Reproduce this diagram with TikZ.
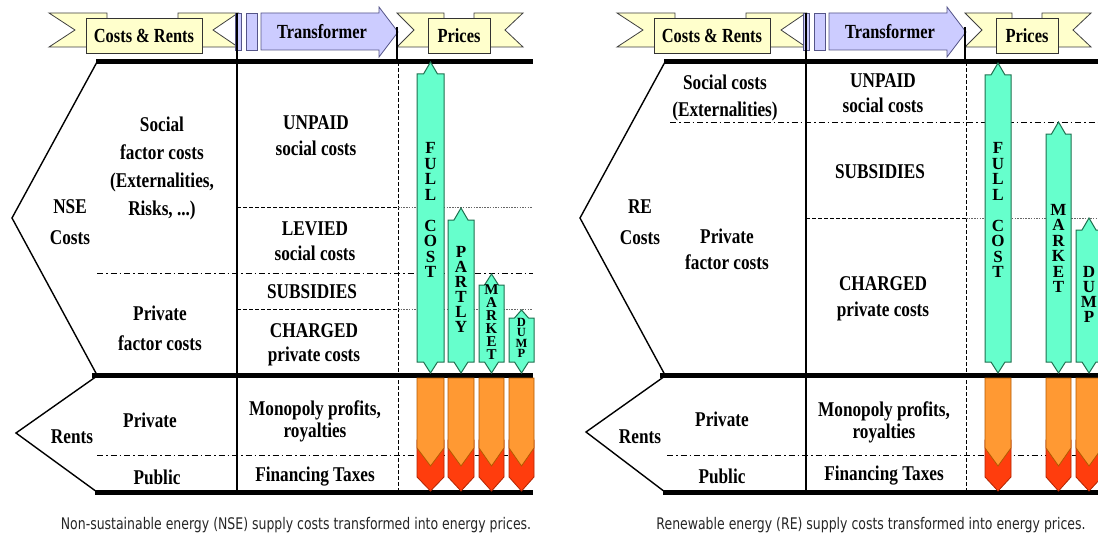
\documentclass[tikz,border=0pt]{standalone}
\usepackage{fontspec}
\newfontfamily\tbf[FakeStretch=0.82]{Liberation Serif}
\newfontfamily\tbv{Liberation Serif}
\newfontfamily\capf[FakeStretch=0.78]{DejaVu Sans}
\definecolor{bannerY}{HTML}{FFFFCC}
\definecolor{lavF}{HTML}{CCCCFF}
\definecolor{lavD}{HTML}{555588}
\definecolor{tealF}{HTML}{66FFCC}
\definecolor{tealD}{HTML}{1F6F4F}
\definecolor{orF}{HTML}{FF9933}
\definecolor{orD}{HTML}{B35900}
\definecolor{redF}{HTML}{FF3D0D}
\definecolor{redD}{HTML}{B32400}
\tikzset{
  banner/.style={fill=bannerY, draw=black!75, line width=0.8pt},
  bannerbox/.style={fill=bannerY, draw=black!80, line width=0.8pt, inner sep=0pt,
    font=\tbf\bfseries\fontsize{20}{24}\selectfont},
  lav/.style={fill=lavF, draw=lavD, line width=0.8pt},
  thickrule/.style={line width=5pt},
  colline/.style={line width=1.6pt},
  chev/.style={line width=1.4pt},
  dsh/.style={line width=1pt, dash pattern=on 4pt off 2pt},
  dashdot/.style={line width=1pt, dash pattern=on 6pt off 3pt on 1.5pt off 3pt},
  dots/.style={line width=0.8pt, black!60, dash pattern=on 1.5pt off 1.2pt},
  tealst/.style={fill=tealF, draw=tealD, line width=1pt},
  orst/.style={fill=orF, draw=orD, line width=0.8pt},
  redst/.style={fill=redF, draw=redD, line width=0.8pt},
  txt/.style={font=\tbf\bfseries\fontsize{21}{#1}\selectfont, align=center, inner sep=0pt},
  txt/.default=26,
  vert/.style 2 args={font=\tbv\bfseries\fontsize{#1}{#2}\selectfont, align=center, inner sep=0pt},
  capt/.style={font=\capf\fontsize{16}{19}\selectfont, text=black!85, inner sep=0pt},
}
\newcommand\tealpencil[5]{%
  \pgfmathsetmacro\pc{(#1+#2)/2}%
  \draw[tealst] (\pc,#3) -- (\pc+7,#3+#5) -- (#2,#3+#5) -- (#2,#4-11) -- (\pc+7,#4-11)
    -- (\pc,#4) -- (\pc-7,#4-11) -- (#1,#4-11) -- (#1,#3+#5) -- (\pc-7,#3+#5) -- cycle;}
\newcommand\firepencil[2]{%
  \pgfmathsetmacro\pc{(#1+#2)/2}%
  \draw[redst] (#1,440) -- (#1,477) -- (\pc,491) -- (#2,477) -- (#2,440) -- cycle;
  \draw[orst] (#1,378) -- (#1,448) -- (\pc,466) -- (#2,448) -- (#2,378) -- cycle;}
\newcommand\headerrow[2]{%
  \begin{scope}[shift={(#2,0)}]
    \draw[banner] (49,13) -- (107,13) -- (107,47) -- (49,47) -- (75,30) -- cycle;
    \draw[banner] (178,13) -- (238,13) -- (213,30) -- (238,47) -- (178,47) -- cycle;
    \node[bannerbox, minimum width=116pt, minimum height=35pt] (cr#1) at (144,35.5) {Costs \& Rents};
    \draw[lav] (235,13) rectangle (241,50);
    \draw[lav] (246,13) rectangle (257,50);
    \draw[lav] (261,13) -- (379,13) -- (379,7) -- (398,32) -- (379,57) -- (379,50) -- (261,50) -- cycle;
    \node[font=\tbf\bfseries\fontsize{20}{24}\selectfont, inner sep=0pt] (tr#1) at (322,32) {Transformer};
    \draw[banner] (397,13) -- (444,13) -- (444,47) -- (397,47) -- (414,30) -- cycle;
    \draw[banner] (474,13) -- (523,13) -- (505,30) -- (523,47) -- (474,47) -- cycle;
    \node[bannerbox, minimum width=62pt, minimum height=35pt] (pr#1) at (459,35.5) {Prices};
    \draw[colline] (397,27) -- (397,62);
  \end{scope}}
\begin{document}
\begin{tikzpicture}[x=1pt,y=-1pt]
\clip (0,0) rectangle (1098,535);
\fill[white] (0,0) rectangle (1098,535);

% ================= LEFT PANEL (NSE) =================
\headerrow{L}{0}
\draw[chev] (97,62) -- (12,218) -- (97,375);
\draw[chev] (97,376) -- (16,433) -- (97,492);
\draw[colline] (237,13) -- (237,492);
\draw[dsh] (398,62) -- (398,492);
\draw[dsh] (237,207) -- (398,207);
\draw[dots] (398,207) -- (533,207);
\draw[dashdot] (97,273) -- (533,273);
\draw[dsh] (237,309) -- (398,309);
\draw[dots] (398,309) -- (533,309);
\draw[dashdot] (97,455) -- (533,455);
\draw[thickrule] (96,62) -- (533,62);
\draw[thickrule] (92,375) -- (533,375);
\draw[thickrule] (95,492) -- (533,492);

\tealpencil{417}{444}{62}{373}{12}
\tealpencil{448}{474}{208}{373}{12}
\tealpencil{479}{504}{274}{373}{11}
\tealpencil{509}{534}{310}{373}{8}
\firepencil{417}{444}
\firepencil{448}{474}
\firepencil{479}{504}
\firepencil{509}{534}

\node[vert={17}{15.5}] (fcL) at (430.5,210) {F\\U\\L\\L\\\mbox{}\\C\\O\\S\\T};
\node[vert={17}{15}] (ptL) at (461,289.5) {P\\A\\R\\T\\L\\Y};
\node[vert={15}{13}] (mkL) at (491.5,322.5) {M\\A\\R\\K\\E\\T};
\node[vert={12.5}{10.5}] (dpL) at (521.5,338) {D\\U\\M\\P};

\node[txt=28] (socL) at (162,168) {Social\\factor costs\\(Externalities,\\Risks, ...)};
\node[txt=31] (nseL) at (70,222) {NSE\\Costs};
\node[txt=26] (unpL) at (316,136) {UNPAID\\social costs};
\node[txt=25] (levL) at (315,241) {LEVIED\\social costs};
\node[txt] (subL) at (312,292) {SUBSIDIES};
\node[txt=24] (chgL) at (314,345) {CHARGED\\private costs};
\node[txt=30] (pfcL) at (160,328) {Private\\factor costs};
\node[txt] (privL) at (150,420) {Private};
\node[txt] (rentsL) at (72,437) {Rents};
\node[txt] (pubL) at (157,477) {Public};
\node[txt=22] (monoL) at (315,421) {Monopoly profits,\\royalties};
\node[txt] (finL) at (315,477) {Financing Taxes};
\node[capt] (capL) at (296,525) {Non-sustainable energy (NSE) supply costs transformed into energy prices.};

% ================= RIGHT PANEL (RE) =================
\headerrow{R}{568}
\draw[chev] (665,62) -- (580,218) -- (665,375);
\draw[chev] (665,376) -- (586,432) -- (665,492);
\draw[colline] (806,13) -- (806,492);
\draw[dsh] (966,62) -- (966,492);
\draw[dashdot] (670,122) -- (1098,122);
\draw[dsh] (806,218) -- (966,218);
\draw[dots] (966,218) -- (1098,218);
\draw[dashdot] (667,455) -- (1098,455);
\draw[thickrule] (664,62) -- (1098,62);
\draw[thickrule] (660,375) -- (1098,375);
\draw[thickrule] (663,492) -- (1098,492);

\tealpencil{985}{1011}{63}{373}{12}
\tealpencil{1046}{1071}{122}{373}{12}
\tealpencil{1076}{1102}{218}{373}{12}
\firepencil{985}{1011}
\firepencil{1046}{1071}
\firepencil{1076}{1102}

\node[vert={17}{15.5}] (fcR) at (998,210) {F\\U\\L\\L\\\mbox{}\\C\\O\\S\\T};
\node[vert={17}{15.4}] (mkR) at (1058.5,248.5) {M\\A\\R\\K\\E\\T};
\node[vert={17}{15}] (dpR) at (1089,294.5) {D\\U\\M\\P};

\node[txt=27] (socR) at (725,98) {Social costs\\(Externalities)};
\node[txt=25] (unpR) at (883,93) {UNPAID\\social costs};
\node[txt] (subR) at (880,172) {SUBSIDIES};
\node[txt=31] (reR) at (640,222) {RE\\Costs};
\node[txt=26] (pfcR) at (727,249) {Private\\factor costs};
\node[txt=26] (chgR) at (883,299) {CHARGED\\private costs};
\node[txt] (privR) at (722,419) {Private};
\node[txt] (rentsR) at (640,437) {Rents};
\node[txt] (pubR) at (722,476) {Public};
\node[txt=22] (monoR) at (884,422) {Monopoly profits,\\royalties};
\node[txt] (finR) at (884,476) {Financing Taxes};
\node[capt] (capR) at (871,525) {Renewable energy (RE) supply costs transformed into energy prices.};
\end{tikzpicture}
\end{document}
